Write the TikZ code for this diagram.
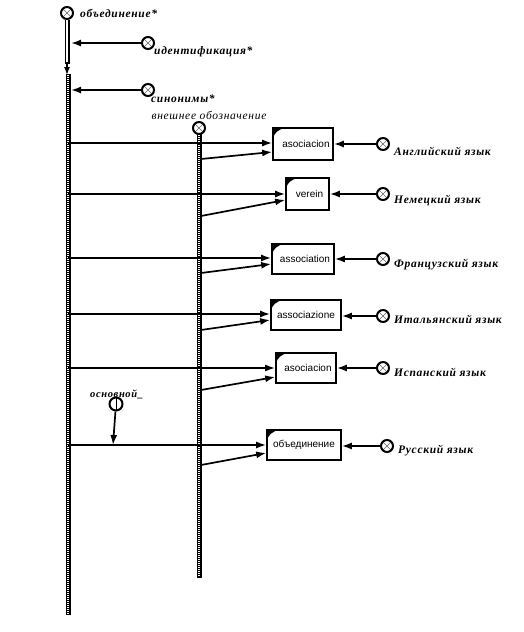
\documentclass[tikz,border=0pt]{standalone}
\usepackage{fontspec}
\setmainfont{Liberation Serif}
\setsansfont{Liberation Sans}
\newfontfamily\labfont[LetterSpace=6]{Liberation Serif}
\usetikzlibrary{arrows.meta,calc}
\begin{document}
\begin{tikzpicture}[x=1pt,y=-1pt,
  every node/.style={inner sep=0pt},
  arr/.style={line width=1.7pt,-{Latex[length=10pt,width=7pt]}},
  xcirc/.style={draw,circle,line width=2pt,minimum size=12pt,fill=white,
    path picture={\draw[line width=0.5pt,black!60]
      (path picture bounding box.north west)--(path picture bounding box.south east)
      (path picture bounding box.north east)--(path picture bounding box.south west);}},
  icirc/.style={draw,circle,line width=2pt,minimum size=13pt,fill=white,
    path picture={\draw[line width=1pt]
      (path picture bounding box.north)--(path picture bounding box.south);}},
  lab/.style={anchor=base west,font=\labfont\bfseries\itshape\fontsize{11.5}{13}\selectfont},
  bx/.style={draw,rectangle,line width=1.6pt,fill=white,font=\sffamily\fontsize{10}{12}\selectfont},
  barout/.style={line width=5pt,black},
  barin/.style={line width=2.2pt,white,dash pattern=on 1pt off 1pt}
]
\fill[white] (0,0) rectangle (523,632);
\useasboundingbox (0,0) rectangle (523,632);

% bars
\coordinate (L0) at (68,74);
\coordinate (L1) at (68,615);
\coordinate (M0) at (199,132);
\coordinate (M1) at (199,578);
\draw[barout] (L0) -- (L1);
\draw[barin] ([yshift=-1pt]L0) -- ([yshift=1pt]L1);
\draw[barout] (M0) -- (M1);
\draw[barin] ([yshift=-1pt]M0) -- ([yshift=1pt]M1);

% top circles
\node[xcirc] (top) at (67,13) {};
\node[lab] at (80,17) {объединение*};
\node[xcirc] (ident) at (148,43) {};
\node[lab] at (154,54) {идентификация*};
\node[xcirc] (syn) at (148,90) {};
\node[lab] at (151,102) {синонимы*};
\node[xcirc] (ext) at (199,128) {};
\node[lab,anchor=base,font=\labfont\itshape\fontsize{11.5}{13}\selectfont] at (209,119) {внешнее обозначение};

% top double bar
\draw[line width=1.4pt,double=white,double distance=2.2pt] (top.south) -- (67,64);
\draw[line width=1.2pt,-{Latex[length=8pt,width=6pt]}] (67,62) -- (67,75);

\draw[arr] (ident) -- (71,43);
\draw[arr] (syn) -- (71,90);

% boxes
\node[bx,minimum width=60pt,minimum height=32pt] (b1) at (303,144) {\hspace{6pt}asociacion};
\node[bx,minimum width=43pt,minimum height=32pt] (b2) at (307.5,194) {\hspace{4pt}verein};
\node[bx,minimum width=62pt,minimum height=30pt] (b3) at (303,259) {\hspace{4pt}association};
\node[bx,minimum width=70pt,minimum height=30pt] (b4) at (306,315) {associazione};
\node[bx,minimum width=60pt,minimum height=30pt] (b5) at (306,368) {\hspace{4pt}asociacion};
\node[bx,minimum width=74pt,minimum height=30pt] (b6) at (304,445) {объединение};
\foreach \b in {b1,b2,b3,b4,b5,b6}{
  \fill ([shift={(0.8pt,-0.8pt)}]\b.north west) -- ++(13pt,0pt)
    .. controls +(-8pt,-1pt) and +(1pt,6pt) .. ++(-13pt,-11pt) -- cycle;
}

% right circles
\node[xcirc] (r1) at (383,144) {};
\node[xcirc] (r2) at (383,194) {};
\node[xcirc] (r3) at (383,259) {};
\node[xcirc] (r4) at (383,316) {};
\node[xcirc] (r5) at (383,368) {};
\node[xcirc] (r6) at (387,446) {};
\node[lab] at (394,155) {Английский язык};
\node[lab] at (394,203) {Немецкий язык};
\node[lab] at (394,267) {Французский язык};
\node[lab] at (394,323) {Итальянский язык};
\node[lab] at (394,376) {Испанский язык};
\node[lab] at (398,453) {Русский язык};
\foreach \i in {1,...,6}{\draw[arr] (r\i) -- (r\i -| b\i.east);}

% horizontal lines from left bar
\coordinate (h1) at (68,143);
\coordinate (h2) at (68,194);
\coordinate (h3) at (68,258);
\coordinate (h4) at (68,314);
\coordinate (h5) at (68,368);
\coordinate (h6) at (68,445);
\foreach \i in {1,...,6}{\draw[arr] (h\i) -- (h\i -| b\i.west);}

% slanted lines from second bar
\coordinate (s1) at (201,159);
\coordinate (s2) at (201,216);
\coordinate (s3) at (201,273);
\coordinate (s4) at (201,330);
\coordinate (s5) at (201,390);
\coordinate (s6) at (201,465);
\coordinate (t1) at ($(b1.west)+(0,8)$);
\coordinate (t2) at ($(b2.west)+(0,6)$);
\coordinate (t3) at ($(b3.west)+(0,5)$);
\coordinate (t4) at ($(b4.west)+(0,5)$);
\coordinate (t5) at ($(b5.west)+(0,9)$);
\coordinate (t6) at ($(b6.west)+(0,8)$);
\foreach \i in {1,...,6}{\draw[arr] (s\i) -- (t\i);}

% основной
\node[icirc] (osn) at (116,404) {};
\node[lab,font=\labfont\bfseries\itshape\fontsize{10.5}{12}\selectfont] at (90,397) {основной\_};
\coordinate (osnEnd) at (113,445);
\draw[arr] (osn) -- (osnEnd);
\end{tikzpicture}
\end{document}
